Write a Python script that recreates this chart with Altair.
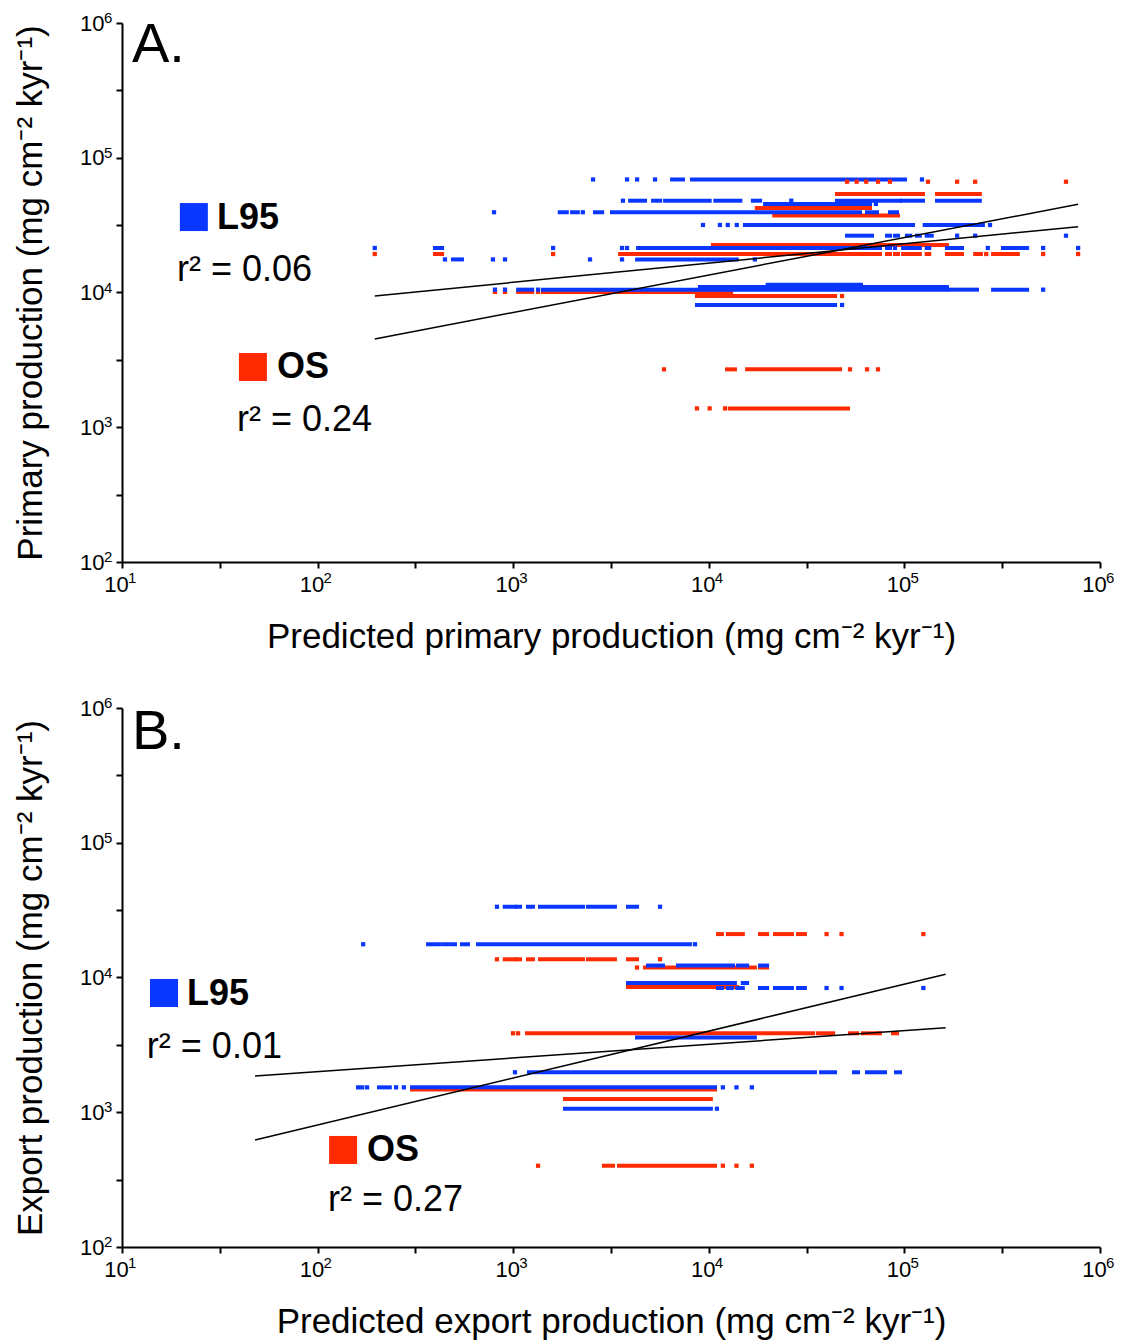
import altair as alt
import pandas as pd

BLUE = "#0a37ff"
RED = "#ff2a00"
FONT = "Liberation Sans"

# ---------------- Panel A : primary production ----------------
# dense runs of samples: (y, x_start, x_end)
A_L95_RUNS = [
    (69000, 6490, 7380), (69000, 8200, 100700),
    (48000, 3960, 4720), (48000, 5190, 5640), (48000, 5980, 10100), (48000, 10800, 14500),
    (48000, 16800, 18300), (48000, 45200, 95000), (48000, 97300, 124500), (48000, 146800, 243000),
    (45400, 19400, 66700),
    (39400, 1730, 1880), (39400, 2000, 2140), (39400, 2620, 2850), (39400, 3200, 59300),
    (39400, 64400, 72400), (39400, 84400, 91700),
    (31700, 15300, 110700), (31700, 127000, 165000), (31700, 171000, 252000),
    (26400, 50900, 68300), (26400, 81500, 84400), (26400, 89500, 92700), (26400, 103000, 107000),
    (26400, 116000, 120000), (26400, 130000, 138000),
    (21400, 398, 433), (21400, 4350, 75000), (21400, 81500, 84400), (21400, 98500, 120000),
    (21400, 130000, 134000), (21400, 165000, 197000), (21400, 319000, 424000),
    (17600, 492, 547), (17600, 4300, 13900),
    (11400, 20000, 60000),
    (11000, 9000, 165000),
    (10500, 1060, 1250), (10500, 1420, 165000), (10500, 171000, 235000), (10500, 284000, 424000),
    (8080, 8700, 44200),
]
A_L95_DOTS = [
    (69000, 2560), (69000, 3820), (69000, 4300), (69000, 5310), (69000, 123000),
    (48000, 3640), (48000, 26400),
    (45400, 71500),
    (39400, 798), (39400, 2270),
    (31700, 9340), (31700, 11400), (31700, 12500), (31700, 13900), (31700, 274000),
    (26400, 186000), (26400, 230000), (26400, 670000),
    (21400, 196), (21400, 1600), (21400, 3600), (21400, 3820), (21400, 89500),
    (21400, 267000), (21400, 512000), (21400, 773000),
    (17600, 448), (17600, 788), (17600, 908), (17600, 2470), (17600, 3600), (17600, 17200),
    (10500, 807), (10500, 908), (10500, 1340), (10500, 512000),
    (8080, 48000),
]
A_OS_RUNS = [
    (53800, 45200, 95000), (53800, 97300, 124500), (53800, 146800, 243000),
    (42400, 17600, 66700),
    (37300, 21600, 92700),
    (22500, 10500, 165000),
    (19300, 398, 433), (19300, 3520, 75000), (19300, 81500, 84400), (19300, 89500, 92700),
    (19300, 98500, 120000), (19300, 130000, 134000), (19300, 165000, 176000),
    (19300, 180000, 197000), (19300, 230000, 246000), (19300, 284000, 303000),
    (19300, 312000, 380000),
    (10100, 1060, 1250), (10100, 1420, 13000),
    (9420, 8700, 44200),
    (2690, 12400, 13600), (2690, 15700, 46900),
    (1380, 12800, 51500),
]
A_OS_DOTS = [
    (66400, 50900), (66400, 57000), (66400, 63800), (66400, 73300), (66400, 84400),
    (66400, 132000), (66400, 186000), (66400, 230000), (66400, 670000),
    (19300, 196), (19300, 1600), (19300, 262000), (19300, 512000), (19300, 773000),
    (10100, 807), (10100, 908), (10100, 1340),
    (9420, 48000),
    (2690, 5900), (2690, 52700), (2690, 64400), (2690, 73300),
    (1380, 8700), (1380, 10100), (1380, 12100),
]
A_FIT_X = [196, 773000]
A_FIT_L95_Y = [9420, 30800]
A_FIT_OS_Y = [4520, 45100]
A_R2_L95 = "0.06"
A_R2_OS = "0.24"

# ---------------- Panel B : export production ----------------
B_L95_RUNS = [
    (33500, 905, 1020), (33500, 1045, 1083), (33500, 1190, 1262), (33500, 1371, 2274),
    (33500, 2411, 3312), (33500, 3864, 4295),
    (17650, 367, 422), (17650, 443, 464), (17650, 487, 504), (17650, 547, 587), (17650, 661, 8010),
    (12270, 4890, 5830), (12270, 6960, 13300), (12270, 14100, 15700), (12270, 18270, 19860),
    (9100, 3864, 4095), (9100, 4295, 13600), (9100, 14930, 15700),
    (8360, 11140, 11670), (8360, 12520, 13100), (8360, 14000, 14930), (8360, 18270, 19850),
    (8360, 21800, 26600), (8360, 28600, 31000),
    (3590, 4295, 17200),
    (1980, 1204, 34900), (1980, 37500, 44200), (1980, 55200, 57900), (1980, 64400, 79600),
    (1980, 90600, 95000),
    (1530, 206, 234), (1530, 304, 10760),
    (1062, 1840, 10250),
]
B_L95_DOTS = [
    (33500, 826), (33500, 5634),
    (17650, 171), (17650, 8500),
    (8360, 40000), (8360, 47700), (8360, 125000),
    (1980, 1021),
    (1530, 161), (1530, 169), (1530, 179), (1530, 252), (1530, 276),
    (1530, 11800), (1530, 13850), (1530, 16600),
    (1062, 11000),
]
B_OS_RUNS = [
    (21000, 11140, 11670), (21000, 12520, 14930), (21000, 18270, 19850), (21000, 21800, 26600),
    (21000, 28600, 31000),
    (13650, 905, 1020), (13650, 1045, 1083), (13650, 1190, 1262), (13650, 1371, 2274),
    (13650, 2411, 3312), (13650, 3864, 4295),
    (11860, 4720, 17200), (11860, 18270, 19860),
    (8500, 3864, 4095), (8500, 4295, 13900),
    (3855, 1177, 34100), (3855, 36100, 43200), (3855, 52700, 57300), (3855, 61400, 75000),
    (3855, 87500, 91700),
    (1475, 304, 10760),
    (1253, 1840, 10250),
    (401, 2910, 3240), (401, 3475, 10760),
]
B_OS_DOTS = [
    (21000, 40000), (21000, 47700), (21000, 125000),
    (13650, 826), (13650, 5634),
    (11860, 4295),
    (3855, 998), (3855, 1059),
    (401, 1340), (401, 11800), (401, 13850), (401, 16600),
]
B_FIT_X = [47.9, 162600]
B_FIT_L95_Y = [1858, 4240]
B_FIT_OS_Y = [622, 10570]
B_R2_L95 = "0.01"
B_R2_OS = "0.27"

# axis ticks: decades (labelled) and half decades (unlabelled)
TICKS = [10, 31.62, 100, 316.2, 1000, 3162, 10000, 31623, 100000, 316228, 1000000]
X_DECADES = [10, 100, 1000, 10000, 100000, 1000000]
X_EXPONENTS = ["1", "2", "3", "4", "5", "6"]
Y_DECADES = [100, 1000, 10000, 100000, 1000000]
Y_EXPONENTS = ["2", "3", "4", "5", "6"]
UNIT = " (mg cm⁻² kyr⁻¹)"

label_expr = ("abs(log(datum.value)/LN10 - round(log(datum.value)/LN10)) < 0.01 ? '10' : ''")


def panel(l95_runs, l95_dots, os_runs, os_dots, fit_x, fit_l95, fit_os,
          r2_l95, r2_os, letter, ann, xtitle, ytitle):
    runs = pd.DataFrame(
        [("OS", y, a, b) for y, a, b in os_runs] + [("L95", y, a, b) for y, a, b in l95_runs],
        columns=["series", "y", "x", "x2"])
    dots = pd.DataFrame(
        [("OS", y, x) for y, x in os_dots] + [("L95", y, x) for y, x in l95_dots],
        columns=["series", "y", "x"])
    fits = pd.DataFrame(
        [("L95", fit_x[i], fit_l95[i]) for i in range(2)] +
        [("OS", fit_x[i], fit_os[i]) for i in range(2)],
        columns=["series", "x", "y"])

    xs = alt.Scale(type="log", domain=[10, 1e6], nice=False)
    ys = alt.Scale(type="log", domain=[100, 1e6], nice=False)
    xa = alt.Axis(values=TICKS, labelExpr=label_expr, title=xtitle, grid=False,
                  labelFlush=False, labelOverlap=False, labelOffset=-6, labelPadding=6)
    ya = alt.Axis(values=TICKS, labelExpr=label_expr, title=ytitle, grid=False,
                  labelOverlap=False, labelPadding=12)
    X = lambda f="x": alt.X(f + ":Q", scale=xs, axis=xa)
    Y = lambda f="y": alt.Y(f + ":Q", scale=ys, axis=ya)
    col = alt.Color("series:N", scale=alt.Scale(domain=["L95", "OS"], range=[BLUE, RED]),
                    legend=None)

    run_layer = alt.Chart(runs).mark_rule(strokeWidth=4, strokeCap="square").encode(
        x=X(), x2="x2:Q", y=Y(), color=col)
    dot_layer = alt.Chart(dots).mark_square(size=18, opacity=1).encode(
        x=X(), y=Y(), color=col)
    fit_layer = alt.Chart(fits).mark_line(color="black", strokeWidth=1.5).encode(
        x=X(), y=Y(), detail="series:N")

    # exponent superscripts of the tick labels
    xsup = pd.DataFrame({"x": X_DECADES, "y": [100] * len(X_DECADES), "text": X_EXPONENTS})
    xsup_layer = alt.Chart(xsup).mark_text(font=FONT, fontSize=15, align="left",
                                           baseline="middle", dx=6, dy=16,
                                           color="black").encode(x=X(), y=Y(), text="text:N")
    ysup = pd.DataFrame({"x": [10] * len(Y_DECADES), "y": Y_DECADES, "text": Y_EXPONENTS})
    ysup_layer = alt.Chart(ysup).mark_text(font=FONT, fontSize=15, align="left",
                                           baseline="middle", dx=-18, dy=-5,
                                           color="black").encode(x=X(), y=Y(), text="text:N")

    (lx, ly), (sbx, sby), (tbx, tby), (rbx, rby), (srx, sry), (trx, try_), (rrx, rry) = ann
    sq = pd.DataFrame([("L95", sbx, sby), ("OS", srx, sry)], columns=["series", "x", "y"])
    sq_layer = alt.Chart(sq).mark_square(size=784, opacity=1).encode(x=X(), y=Y(), color=col)
    bold = pd.DataFrame([("L95", tbx, tby), ("OS", trx, try_)], columns=["text", "x", "y"])
    bold_layer = alt.Chart(bold).mark_text(font=FONT, fontSize=36, fontWeight="bold",
                                           align="left", baseline="middle", color="black").encode(
        x=X(), y=Y(), text="text:N")
    r2 = pd.DataFrame([("r² = " + r2_l95, rbx, rby), ("r² = " + r2_os, rrx, rry)],
                      columns=["text", "x", "y"])
    r2_layer = alt.Chart(r2).mark_text(font=FONT, fontSize=36, align="left",
                                       baseline="middle", color="black").encode(
        x=X(), y=Y(), text="text:N")
    let = pd.DataFrame([(letter, lx, ly)], columns=["text", "x", "y"])
    let_layer = alt.Chart(let).mark_text(font=FONT, fontSize=56, align="left",
                                         baseline="middle", color="black").encode(
        x=X(), y=Y(), text="text:N")

    return alt.layer(run_layer, dot_layer, fit_layer, xsup_layer, ysup_layer, sq_layer,
                     bold_layer, r2_layer, let_layer).properties(width=978, height=539)


A_ANN = [(11.25, 684000), (23.3, 36300), (30.6, 35700), (19.1, 14700),
         (46.7, 2800), (62, 2780), (38.7, 1130)]
B_ANN = [(11.25, 663000), (16.4, 7670), (21.5, 7600), (13.4, 3050),
         (135, 525), (179, 525), (113, 223)]

pa = panel(A_L95_RUNS, A_L95_DOTS, A_OS_RUNS, A_OS_DOTS, A_FIT_X, A_FIT_L95_Y, A_FIT_OS_Y,
           A_R2_L95, A_R2_OS, "A.", A_ANN,
           "Predicted primary production" + UNIT, "Primary production" + UNIT)
pb = panel(B_L95_RUNS, B_L95_DOTS, B_OS_RUNS, B_OS_DOTS, B_FIT_X, B_FIT_L95_Y, B_FIT_OS_Y,
           B_R2_L95, B_R2_OS, "B.", B_ANN,
           "Predicted export production" + UNIT, "Export production" + UNIT)

chart = alt.vconcat(pa, pb, spacing=42).properties(
    padding={"left": 5, "top": 3, "right": 0, "bottom": 5}
).configure_axis(
    labelFont=FONT, labelFontSize=22, labelColor="black",
    titleFont=FONT, titleFontSize=35, titleFontWeight="normal", titleColor="black",
    domainColor="black", domainWidth=2, tickColor="black", tickWidth=2, tickSize=6,
).configure_axisX(titlePadding=24).configure_axisY(titlePadding=31).configure_view(stroke=None)

chart.save("out.html", embed_options={"renderer": "svg", "actions": False})
